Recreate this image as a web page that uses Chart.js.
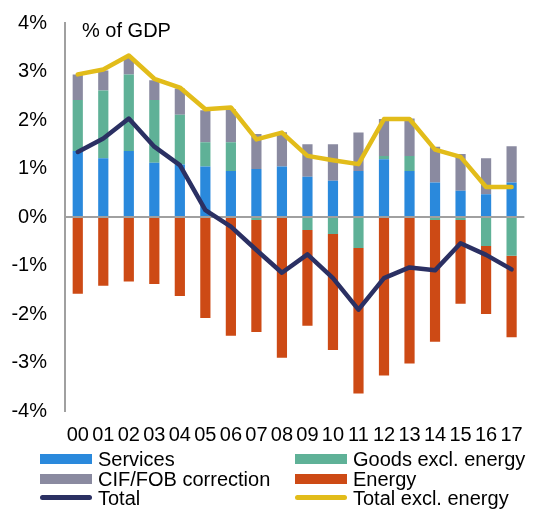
<!DOCTYPE html>
<html>
<head>
<meta charset="utf-8">
<script src="https://cdn.jsdelivr.net/npm/chart.js@4/dist/chart.umd.min.js"></script>
<style>
  html, body { margin: 0; padding: 0; background: #fff; }
  #wrap { position: relative; width: 535px; height: 511px; font-family: "Liberation Sans", Arial, sans-serif; }
  #chart { position: absolute; left: 0; top: 0; }
  #title { position: absolute; left: 82px; top: 19px; font-size: 20px; color: #000; }
  .item { position: absolute; height: 20px; font-size: 20px; line-height: 20px; color: #000; white-space: nowrap; }
  .sw { position: absolute; left: 0; width: 52px; }
  .item span.t { position: absolute; left: 58px; top: 0; }
</style>
</head>
<body>
<div id="wrap">
  <canvas id="chart" width="535" height="511"></canvas>
  <div id="title">% of GDP</div>
  <div id="legend"></div>
</div>
<script>
const years = ["00", "01", "02", "03", "04", "05", "06", "07", "08", "09", "10", "11", "12", "13", "14", "15", "16", "17"];

const services = [1.36, 1.21, 1.36, 1.12, 1.08, 1.04, 0.95, 0.99, 1.04, 0.83, 0.75, 0.95, 1.19, 0.95, 0.71, 0.54, 0.47, 0.71];
const goodsExclEnergy = [1.05, 1.40, 1.58, 1.29, 1.03, 0.50, 0.59, -0.06, 0.0, -0.27, -0.35, -0.64, 0.07, 0.31, -0.06, -0.06, -0.60, -0.80];
const cifFob = [0.53, 0.41, 0.36, 0.41, 0.54, 0.66, 0.68, 0.72, 0.71, 0.67, 0.75, 0.79, 0.76, 0.77, 0.74, 0.76, 0.74, 0.75];
const energy = [-1.58, -1.42, -1.33, -1.38, -1.63, -2.08, -2.45, -2.31, -2.90, -1.97, -2.39, -3.00, -3.27, -3.02, -2.51, -1.73, -1.40, -1.68];
const total = [1.34, 1.62, 2.03, 1.45, 1.07, 0.14, -0.20, -0.68, -1.15, -0.77, -1.26, -1.91, -1.26, -1.04, -1.10, -0.54, -0.78, -1.08];
const totalExclEnergy = [2.94, 3.04, 3.33, 2.85, 2.67, 2.22, 2.26, 1.60, 1.74, 1.26, 1.17, 1.09, 2.02, 2.02, 1.39, 1.24, 0.62, 0.62];

const yTicks = [-4, -3, -2, -1, 0, 1, 2, 3, 4];

const COLORS = {
    services: "#2a89dc",
    goods: "#5fb197",
    cif: "#8a8aa0",
    energy: "#cd4a15",
    total: "#2b3063",
    totalExcl: "#e2bc1a",
};

const FONT = "'Liberation Sans', Arial, sans-serif";

const bar = (label, data, color) => ({
    type: "bar",
    label: label,
    data: data,
    backgroundColor: color,
    stack: "bars",
    order: 2,
    barPercentage: 0.4,
    categoryPercentage: 1.0,
});

const line = (label, data, color, stack) => ({
    type: "line",
    label: label,
    data: data,
    borderColor: color,
    backgroundColor: color,
    borderWidth: 4.5,
    pointRadius: 0,
    tension: 0,
    borderJoinStyle: "round",
    borderCapStyle: "round",
    stack: stack,
    order: 1,
});

const datasets = [
    bar("Services", services, COLORS.services),
    bar("Goods excl. energy", goodsExclEnergy, COLORS.goods),
    bar("CIF/FOB correction", cifFob, COLORS.cif),
    bar("Energy", energy, COLORS.energy),
    line("Total excl. energy", totalExclEnergy, COLORS.totalExcl, "l2"),
    line("Total", total, COLORS.total, "l1"),
];

new Chart(document.getElementById("chart"), {
    data: { labels: years, datasets: datasets },
    options: {
        responsive: false,
        animation: false,
        layout: { padding: { left: 11, right: 10, top: 23, bottom: 64 } },
        plugins: { legend: { display: false }, tooltip: { enabled: false } },
        scales: {
            x: {
                stacked: true,
                offset: true,
                afterFit: (scale) => { scale.height = 36; },
                grid: { display: false, drawTicks: false },
                border: { display: false },
                ticks: { color: "#000", font: { family: FONT, size: 20 }, padding: 12, maxRotation: 0, autoSkip: false },
            },
            y: {
                stacked: true,
                min: -4,
                max: 4,
                z: 1,
                afterFit: (scale) => {
                    scale.width = 54;
                    scale.paddingTop = 0;
                    scale.paddingBottom = 0;
                },
                afterBuildTicks: (scale) => { scale.ticks = yTicks.map((v) => ({ value: v })); },
                grid: {
                    drawTicks: false,
                    lineWidth: 2,
                    color: (ctx) => (ctx.tick && ctx.tick.value === 0 ? "#a0a0a0" : "rgba(0,0,0,0)"),
                },
                border: { display: true, color: "#a0a0a0", width: 2 },
                ticks: { color: "#000", font: { family: FONT, size: 20 }, padding: 18, callback: (v) => v + "%" },
            },
        },
    },
});

// legend: two columns, three rows
const legendItems = [
    { label: "Services", color: COLORS.services, kind: "box", col: 0, row: 0 },
    { label: "Goods excl. energy", color: COLORS.goods, kind: "box", col: 1, row: 0 },
    { label: "CIF/FOB correction", color: COLORS.cif, kind: "box", col: 0, row: 1 },
    { label: "Energy", color: COLORS.energy, kind: "box", col: 1, row: 1 },
    { label: "Total", color: COLORS.total, kind: "line", col: 0, row: 2 },
    { label: "Total excl. energy", color: COLORS.totalExcl, kind: "line", col: 1, row: 2 },
];
const colX = [40, 295];
const rowY = [459, 478.5, 498];
const legend = document.getElementById("legend");
legendItems.forEach((it) => {
    const d = document.createElement("div");
    d.className = "item";
    d.style.left = colX[it.col] + "px";
    d.style.top = (rowY[it.row] - 10) + "px";
    const sw = document.createElement("div");
    sw.className = "sw";
    sw.style.background = it.color;
    if (it.kind === "box") {
        sw.style.height = "10px";
        sw.style.top = "5px";
    } else {
        sw.style.height = "5px";
        sw.style.top = "7px";
        sw.style.borderRadius = "3px";
    }
    const t = document.createElement("span");
    t.className = "t";
    t.textContent = it.label;
    d.appendChild(sw);
    d.appendChild(t);
    legend.appendChild(d);
});
</script>
</body>
</html>
